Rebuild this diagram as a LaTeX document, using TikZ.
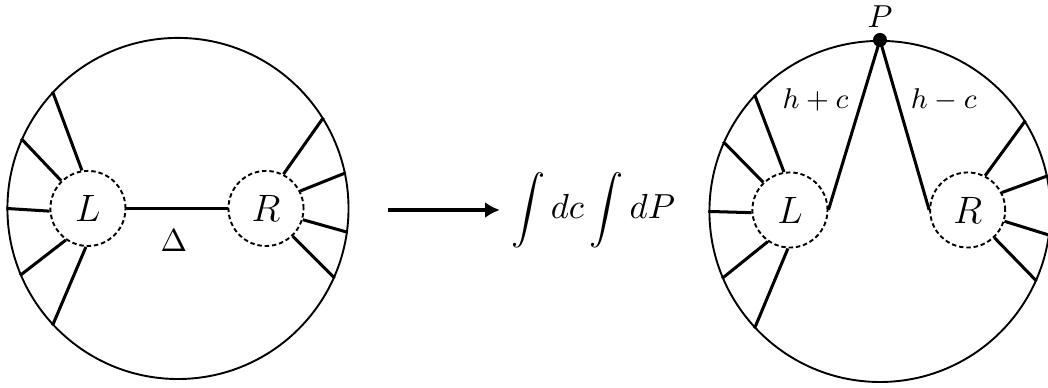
\documentclass[tikz,border=0pt]{standalone}
\usepackage{amsmath,amssymb}
\usetikzlibrary{arrows.meta,positioning}
\tikzset{
  disk/.style={draw, circle, line width=0.6pt, minimum size=3.77cm, inner sep=0pt},
  blob/.style={draw, circle, line width=0.6pt, dash pattern=on 1.4pt off 0.9pt,
    minimum size=0.83cm, inner sep=0pt, font=\large},
  spoke/.style={line width=0.95pt},
}
\begin{document}
\begin{tikzpicture}
\useasboundingbox (0,0) rectangle (11.583,4.288);
% left diagram: L and R joined by a propagator
\node[disk] (D1) at (1.967,1.984) {};
\node[blob] (L1) at (0.972,1.984) {$L$};
\node[blob] (R1) at (2.940,1.984) {$R$};
\draw[spoke] (L1) -- (R1) node[midway, below=3pt, xshift=-1pt] (delta) {$\Delta$};

% arrow
\coordinate (a0) at (4.291,1.967);
\node[font=\fontsize{10.7pt}{13pt}\selectfont] (int) at (6.554,1.967) {$\displaystyle\int dc\int dP$};
\draw[line width=1.2pt, -{Latex[length=4.6pt, width=5pt]}] (a0) -- (int.west);

% right diagram: both blobs tied to the point P
\node[disk] (D2) at (9.726,1.951) {};
\node[blob] (L2) at (8.731,1.967) {$L$};
\node[blob] (R2) at (10.695,1.967) {$R$};
\node[circle, fill, inner sep=0pt, minimum size=4.4pt] (P) at (D2.north) {};
\node[above=-2pt of P] (Plab) {$P$};
\draw[spoke] (P.center) -- (L2.east) node[pos=0.35, left=0.5pt, font=\small] (hp) {$h+c$};
\draw[spoke] (P.center) -- (R2.west) node[pos=0.35, right=0.5pt, font=\small] (hm) {$h-c$};

% legs from the blobs to the boundary
\foreach \n in {1,2} {
  \foreach \a/\b in {99.5/137.6, 134/156.8, 184/180.8, 235.5/203.4, 267.5/223.3}
    \draw[spoke] (L\n.\a) -- (D\n.\b);
  \foreach \a/\b in {63.2/32.5, 27.5/12.9, 343.7/352, 314.3/336.2}
    \draw[spoke] (R\n.\a) -- (D\n.\b);
}
\end{tikzpicture}
\end{document}
